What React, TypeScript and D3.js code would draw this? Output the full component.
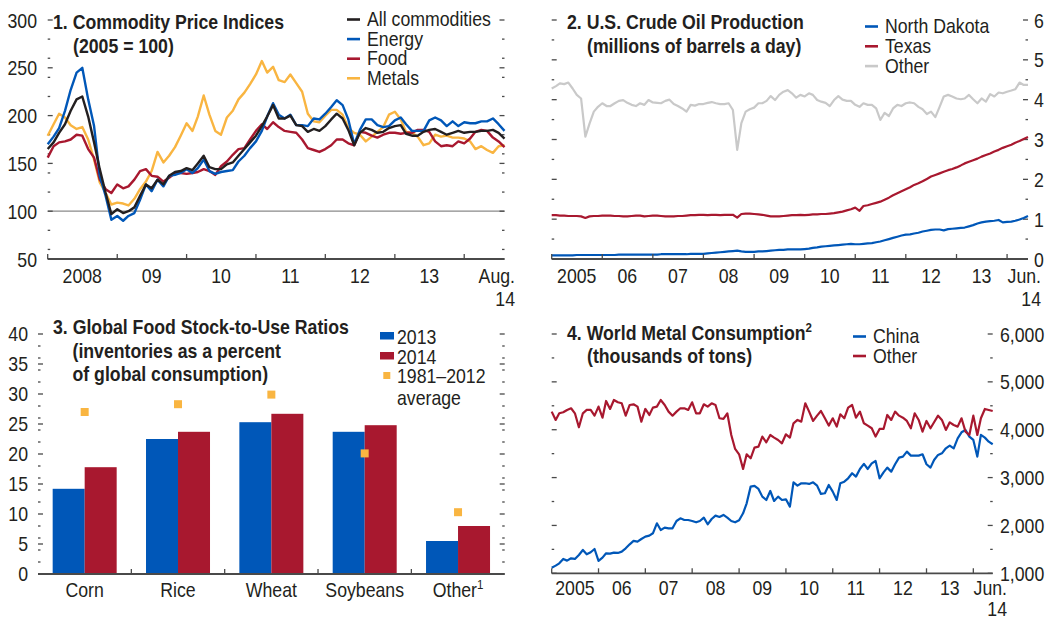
import * as d3 from "d3";

const FONT = "'Liberation Sans', Arial, sans-serif";
const FS = 20;
const SX = 0.885; // the original uses a condensed face; squeeze glyphs horizontally
const INK = "#231f20";
const AXIS = "#4a4a4a";
const BLUE = "#0057b8";
const RED = "#a8182f";
const GOLD = "#f9b541";
const BLACK = "#231f20";
const GREY = "#c9c9c9";

// 1. Commodity price indices (2005 = 100), monthly Jan 2008 - Aug 2014
const allCommodities = [
  165, 172, 182, 191, 205, 217, 220, 199, 172, 144, 119, 97,
  102, 98, 100, 104, 116, 128, 124, 133, 128, 137, 141, 142,
  145, 143, 150, 158, 146, 144, 144, 149, 151, 158, 165, 172,
  179, 189, 199, 211, 197, 197, 200, 190, 189, 183, 186, 184,
  189, 196, 202, 197, 185, 169, 182, 187, 185, 182, 183, 187,
  189, 190, 181, 179, 179, 183, 185, 186, 183, 180, 182, 184,
  182, 183, 183, 184, 184, 185, 182, 176,
];
const energy = [
  170, 178, 187, 205, 227, 245, 250, 217, 189, 137, 116, 91,
  95, 90, 95, 98, 112, 128, 121, 133, 126, 137, 138, 140,
  144, 140, 145, 154, 142, 139, 141, 142, 143, 152, 158, 166,
  173, 184, 199, 213, 201, 197, 201, 190, 190, 189, 197, 196,
  202, 209, 216, 211, 196, 170, 185, 196, 196, 190, 188, 189,
  195, 198, 191, 184, 184, 184, 195, 198, 195, 189, 194, 189,
  193, 192, 192, 194, 194, 197, 191, 184,
];
const foodIndex = [
  156, 168, 172, 173, 175, 180, 179, 165, 156, 133, 123, 119,
  128, 124, 126, 133, 142, 144, 137, 136, 131, 135, 140, 140,
  139, 140, 141, 144, 142, 138, 147, 152, 159, 165, 166, 175,
  184, 191, 186, 193, 188, 184, 183, 182, 175, 166, 164, 162,
  165, 169, 175, 175, 171, 169, 183, 182, 179, 177, 180, 182,
  182, 181, 182, 182, 185, 185, 183, 173, 168, 169, 168, 173,
  171, 176, 183, 185, 184, 177, 173, 167,
];
const metalsIndex = [
  179, 191, 202, 198, 190, 186, 188, 175, 154, 130, 119, 107,
  109, 108, 106, 113, 123, 131, 142, 162, 151, 158, 167, 179,
  192, 184, 199, 221, 201, 184, 180, 198, 205, 217, 224, 233,
  243, 257, 245, 251, 237, 235, 243, 234, 225, 202, 194, 193,
  200, 206, 206, 201, 187, 182, 180, 173, 178, 183, 188, 201,
  204, 196, 183, 182, 178, 169, 171, 180, 178, 179, 177, 177,
  176, 173, 165, 168, 164, 161, 168, 169,
];
const priceTicks = [50, 100, 150, 200, 250, 300];
const priceYears = ["2008", "09", "10", "11", "12", "13"];

// 2. U.S. crude oil production (mb/d), monthly Jan 2005 - Jun 2014
const northDakota = [
  0.09, 0.09, 0.09, 0.09, 0.09, 0.09, 0.1, 0.1, 0.1, 0.1, 0.1, 0.1,
  0.1, 0.1, 0.1, 0.1, 0.11, 0.11, 0.11, 0.11, 0.11, 0.11, 0.11, 0.11,
  0.11, 0.11, 0.12, 0.12, 0.12, 0.12, 0.12, 0.12, 0.12, 0.13, 0.13, 0.13,
  0.13, 0.14, 0.15, 0.16, 0.17, 0.18, 0.19, 0.2, 0.21, 0.19, 0.18, 0.18,
  0.18, 0.19, 0.19, 0.2, 0.21, 0.22, 0.23, 0.23, 0.24, 0.24, 0.24, 0.24,
  0.25, 0.26, 0.28, 0.29, 0.31, 0.32, 0.33, 0.34, 0.35, 0.36, 0.37, 0.38,
  0.37, 0.37, 0.38, 0.39, 0.4, 0.42, 0.44, 0.47, 0.5, 0.53, 0.56, 0.59,
  0.61, 0.62, 0.64, 0.66, 0.69, 0.71, 0.73, 0.74, 0.74, 0.72, 0.75, 0.76,
  0.77, 0.78, 0.79, 0.82, 0.85, 0.89, 0.92, 0.94, 0.95, 0.96, 0.98, 0.92,
  0.93, 0.94, 0.96, 0.99, 1.03, 1.08,
];
const texas = [
  1.1, 1.1, 1.09, 1.09, 1.08, 1.08, 1.08, 1.07, 1.03, 1.07, 1.08, 1.08,
  1.09, 1.09, 1.09, 1.08, 1.08, 1.07, 1.07, 1.08, 1.09, 1.09, 1.07, 1.08,
  1.09, 1.09, 1.08, 1.07, 1.07, 1.07, 1.08, 1.08, 1.09, 1.1, 1.1, 1.11,
  1.11, 1.1, 1.11, 1.11, 1.1, 1.11, 1.11, 1.11, 1.04, 1.13, 1.14, 1.14,
  1.13, 1.12, 1.11, 1.09, 1.07, 1.07, 1.07, 1.08, 1.09, 1.1, 1.1, 1.11,
  1.1, 1.11, 1.12, 1.12, 1.13, 1.13, 1.14, 1.15, 1.17, 1.19, 1.22, 1.25,
  1.29, 1.21, 1.33, 1.35, 1.38, 1.41, 1.44, 1.49, 1.54, 1.6, 1.65, 1.7,
  1.75, 1.8, 1.86, 1.9, 1.95, 2.01, 2.07, 2.11, 2.15, 2.19, 2.23, 2.26,
  2.3, 2.35, 2.4, 2.44, 2.48, 2.52, 2.57, 2.61, 2.65, 2.7, 2.74, 2.79,
  2.83, 2.87, 2.92, 2.96, 3.01, 3.06,
];
const otherOil = [
  4.28, 4.34, 4.41, 4.39, 4.43, 4.28, 4.12, 4.03, 3.07, 3.4, 3.7, 3.82,
  3.91, 3.84, 3.84, 3.91, 3.97, 3.99, 3.92, 3.87, 3.84, 3.91, 3.87, 3.99,
  3.93, 3.92, 3.91, 3.97, 4.0, 3.89, 3.84, 3.78, 3.7, 3.87, 3.85, 3.89,
  3.89, 3.92, 3.94, 3.91, 3.89, 3.89, 3.91, 3.74, 2.74, 3.41, 3.7, 3.76,
  3.8, 3.91, 3.91, 3.97, 4.09, 3.99, 4.12, 4.2, 4.24, 4.16, 4.05, 4.12,
  4.08, 4.16, 4.12, 3.99, 3.95, 3.92, 3.84, 3.99, 4.09, 4.0, 3.97, 3.97,
  3.87, 3.82, 3.91, 3.87, 3.87, 3.78, 3.49, 3.67, 3.59, 3.78, 3.87, 3.84,
  3.91, 3.93, 3.91, 3.82, 3.76, 3.64, 3.7, 3.56, 3.82, 4.08, 4.12, 4.08,
  4.03, 4.01, 4.03, 4.12, 4.01, 3.91, 4.03, 3.95, 4.14, 4.08, 4.18, 4.16,
  4.2, 4.23, 4.26, 4.43, 4.37, 4.37,
];
const oilTicks = [0, 1, 2, 3, 4, 5, 6];
const longYears = ["2005", "06", "07", "08", "09", "10", "11", "12", "13"];

// 3. Global food stock-to-use ratios (percent)
const foodCats = ["Corn", "Rice", "Wheat", "Soybeans", "Other"];
const stocks2013 = [14.2, 22.5, 25.3, 23.7, 5.5];
const stocks2014 = [17.8, 23.7, 26.7, 24.8, 8.0];
const stocksAvg = [27.0, 28.3, 29.9, 20.1, 10.3];
const stockTicks = [0, 5, 10, 15, 20, 25, 30, 35, 40];

// 4. World metal consumption (thousands of tons), monthly Jan 2005 - Jun 2014
const chinaMetal = [
  1118, 1160, 1209, 1300, 1265, 1313, 1300, 1383, 1488, 1397, 1439, 1508,
  1258, 1327, 1418, 1411, 1432, 1425, 1453, 1522, 1606, 1676, 1662, 1717,
  1766, 1787, 1836, 2045, 1905, 1954, 1940, 1940, 2093, 2149, 2114, 2114,
  2093, 2066, 2093, 2163, 2024, 2135, 2205, 2177, 2219, 2163, 2093, 2066,
  2107, 2254, 2463, 2811, 2825, 2762, 2602, 2532, 2720, 2511, 2602, 2532,
  2546, 2393, 2901, 2832, 2881, 2881, 2867, 2901, 2832, 2658, 2672, 2846,
  2706, 2532, 2881, 2915, 2985, 3090, 3020, 3180, 3285, 3180, 3298, 3347,
  2985, 3110, 3208, 3124, 3278, 3417, 3438, 3542, 3459, 3459, 3459, 3487,
  3278, 3208, 3368, 3473, 3507, 3612, 3668, 3612, 3821, 3946, 3995, 3856,
  3786, 3438, 3891, 3835, 3751, 3696,
];
const otherMetal = [
  4378, 4204, 4343, 4364, 4413, 4448, 4343, 4051, 4343, 4413, 4413, 4294,
  4483, 4252, 4601, 4434, 4622, 4573, 4552, 4294, 4517, 4531, 4483, 4169,
  4434, 4308, 4462, 4483, 4622, 4517, 4378, 4294, 4378, 4448, 4448, 4413,
  4573, 4343, 4343, 4531, 4483, 4552, 4517, 4239, 4225, 4343, 3890, 3598,
  3486, 3180, 3486, 3403, 3626, 3647, 3856, 3737, 3890, 3835, 3786, 3716,
  3904, 3835, 4134, 4204, 4169, 4552, 4378, 4183, 4294, 4392, 4239, 4086,
  4239, 4065, 4322, 4239, 4462, 4517, 4252, 4378, 4134, 4086, 4030, 3856,
  4016, 4016, 4308, 4204, 4378, 4294, 4252, 4183, 4030, 4343, 4204, 3960,
  4183, 4030, 4155, 4294, 4204, 3995, 4155, 4099, 4065, 4239, 3960, 3890,
  4294, 3890, 4239, 4434, 4413, 4392,
];
const metalTicks = [1000, 2000, 3000, 4000, 5000, 6000];

const monthsFrom = (year: number, n: number) =>
  d3.range(n).map((i) => new Date(year, i, 1));

type Series = { name: string; color: string; values: number[] };

// condensed text: position, then squeeze horizontally
function T({ x, y, anchor, bold, children }: any) {
  return (
    <text
      transform={`translate(${x},${y}) scale(${SX},1)`}
      textAnchor={anchor || "start"}
      fontWeight={bold ? 700 : 400}
    >
      {children}
    </text>
  );
}

function SideTicks({ y, major, minor, x0, x1 }: any) {
  const mk = (v: number, len: number, k: string) => (
    <g key={k}>
      <line x1={x0} x2={x0 + len} y1={y(v)} y2={y(v)} />
      <line x1={x1 - len} x2={x1} y1={y(v)} y2={y(v)} />
    </g>
  );
  return (
    <g stroke={AXIS} strokeWidth={1.3}>
      {major.map((v: number) => mk(v, 5, "M" + v))}
      {minor.map((v: number) => mk(v, 2.5, "m" + v))}
    </g>
  );
}

function YearAxis({ x, baseY, firstYear, labels, end, endRight, labelDy, endDy }: any) {
  const [r0, r1] = x.range();
  const tickYears = d3.range(firstYear, firstYear + labels.length + 1);
  return (
    <g>
      <line x1={r0} x2={r1} y1={baseY} y2={baseY} stroke={AXIS} strokeWidth={1.8} />
      {tickYears.map((yr) => (
        <line key={yr} x1={x(new Date(yr, 0, 1))} x2={x(new Date(yr, 0, 1))} y1={baseY - 5} y2={baseY} stroke={AXIS} strokeWidth={1.3} />
      ))}
      {labels.map((lab: string, i: number) => (
        <T key={lab} x={x(new Date(firstYear + i, 6, 1))} y={baseY + labelDy} anchor="middle">{lab}</T>
      ))}
      <T x={endRight} y={baseY + labelDy} anchor="end">{end[0]}</T>
      <T x={endRight} y={baseY + endDy} anchor="end">{end[1]}</T>
    </g>
  );
}

function Lines({ x, y, dates, series, width }: any) {
  return (
    <g fill="none" strokeWidth={width} strokeLinejoin="round">
      {series.map((s: Series) => {
        const path = d3.line<number>().x((_, i) => x(dates[i])).y((d) => y(d))(s.values);
        return <path key={s.name} d={path || ""} stroke={s.color} />;
      })}
    </g>
  );
}

function LineLegend({ x, y0, step, items }: any) {
  return (
    <g>
      {items.map((s: Series, i: number) => (
        <g key={s.name}>
          <line x1={x} x2={x + 13} y1={y0 + i * step - 6.5} y2={y0 + i * step - 6.5} stroke={s.color} strokeWidth={2.6} />
          <T x={x + 20} y={y0 + i * step}>{s.name}</T>
        </g>
      ))}
    </g>
  );
}

function PricePanel() {
  const dates = monthsFrom(2008, allCommodities.length);
  const x = d3.scaleTime().domain([dates[0], dates[dates.length - 1]]).range([47.7, 504.5]);
  const y = d3.scaleLinear().domain([50, 300]).range([259, 20]);
  const minor = y.ticks(10).filter((v) => !priceTicks.includes(v));
  const series: Series[] = [
    { name: "All commodities", color: BLACK, values: allCommodities },
    { name: "Energy", color: BLUE, values: energy },
    { name: "Food", color: RED, values: foodIndex },
    { name: "Metals", color: GOLD, values: metalsIndex },
  ];
  const drawOrder = [series[3], series[2], series[1], series[0]];
  return (
    <g>
      <line x1={47.7} x2={504.5} y1={y(100)} y2={y(100)} stroke="#8a8a8a" strokeWidth={1.2} />
      <SideTicks y={y} major={priceTicks} minor={minor} x0={47.7} x1={504.5} />
      {priceTicks.map((v) => (
        <T key={v} x={37} y={y(v) + 7.5} anchor="end">{v}</T>
      ))}
      <Lines x={x} y={y} dates={dates} series={drawOrder} width={2.4} />
      <YearAxis x={x} baseY={259} firstYear={2008} labels={priceYears} end={["Aug.", "14"]} endRight={515} labelDy={24} endDy={47} />
      <T x={53} y={29} bold>1. Commodity Price Indices</T>
      <T x={73} y={52.5} bold>(2005 = 100)</T>
      <LineLegend x={347} y0={26} step={19.6} items={series} />
    </g>
  );
}

function OilPanel() {
  const dates = monthsFrom(2005, otherOil.length);
  const x = d3.scaleTime().domain([dates[0], dates[dates.length - 1]]).range([551.7, 1028]);
  const y = d3.scaleLinear().domain([0, 6]).range([259, 20]);
  const minor = y.ticks(12).filter((v) => !oilTicks.includes(v));
  const series: Series[] = [
    { name: "North Dakota", color: BLUE, values: northDakota },
    { name: "Texas", color: RED, values: texas },
    { name: "Other", color: GREY, values: otherOil },
  ];
  return (
    <g>
      <SideTicks y={y} major={oilTicks} minor={minor} x0={551.7} x1={1028} />
      {oilTicks.map((v) => (
        <T key={v} x={1034} y={y(v) + 7.5}>{v}</T>
      ))}
      <Lines x={x} y={y} dates={dates} series={[...series].reverse()} width={2.2} />
      <YearAxis x={x} baseY={259} firstYear={2005} labels={longYears} end={["Jun.", "14"]} endRight={1041} labelDy={24} endDy={47} />
      <T x={567} y={29} bold>2. U.S. Crude Oil Production</T>
      <T x={587} y={52.5} bold>(millions of barrels a day)</T>
      <LineLegend x={865} y0={33} step={19.8} items={series} />
    </g>
  );
}

function StockPanel() {
  const x = d3.scaleBand<string>().domain(foodCats).range([38, 504.7]);
  const bw = x.bandwidth();
  const inner = d3.scaleBand<string>().domain(["2013", "2014"]).range([bw / 2 - 32, bw / 2 + 32]);
  const y = d3.scaleLinear().domain([0, 40]).range([574, 334]);
  const minor = y.ticks(16).filter((v) => !stockTicks.includes(v));
  return (
    <g>
      <SideTicks y={y} major={stockTicks} minor={minor} x0={38} x1={504.7} />
      {stockTicks.map((v) => (
        <T key={v} x={28} y={y(v) + 7} anchor="end">{v}</T>
      ))}
      {foodCats.map((c, i) => (
        <g key={c} transform={`translate(${x(c)},0)`}>
          <rect x={inner("2013")} y={y(stocks2013[i])} width={inner.bandwidth()} height={y(0) - y(stocks2013[i])} fill={BLUE} />
          <rect x={inner("2014")} y={y(stocks2014[i])} width={inner.bandwidth()} height={y(0) - y(stocks2014[i])} fill={RED} />
          <rect x={bw / 2 - 4} y={y(stocksAvg[i]) - 4} width={8} height={8} fill={GOLD} />
          <T x={bw / 2} y={596.5} anchor="middle">
            {c}
            {c === "Other" && <tspan dy={-8} fontSize={13}>1</tspan>}
          </T>
        </g>
      ))}
      <line x1={38} x2={504.7} y1={574} y2={574} stroke={AXIS} strokeWidth={1.8} />
      {foodCats.slice(1).map((c) => (
        <line key={c} x1={x(c)} x2={x(c)} y1={569} y2={574} stroke={AXIS} strokeWidth={1.3} />
      ))}
      <T x={53} y={334} bold>3. Global Food Stock-to-Use Ratios</T>
      <T x={72.5} y={357.5} bold>(inventories as a percent</T>
      <T x={72.5} y={381} bold>of global consumption)</T>
      <rect x={380} y={332} width={14} height={7.5} fill={BLUE} />
      <T x={397} y={343.5}>2013</T>
      <rect x={380} y={352} width={14} height={7.5} fill={RED} />
      <T x={397} y={363.5}>2014</T>
      <rect x={383.3} y={372} width={7} height={7} fill={GOLD} />
      <T x={397} y={383}>1981–2012</T>
      <T x={397} y={404.5}>average</T>
    </g>
  );
}

function MetalPanel() {
  const dates = monthsFrom(2005, chinaMetal.length);
  const x = d3.scaleTime().domain([dates[0], dates[dates.length - 1]]).range([551.7, 992.7]);
  const y = d3.scaleLinear().domain([1000, 6000]).range([573.3, 334]);
  const minor = y.ticks(10).filter((v) => !metalTicks.includes(v));
  const series: Series[] = [
    { name: "China", color: BLUE, values: chinaMetal },
    { name: "Other", color: RED, values: otherMetal },
  ];
  const fmt = d3.format(",");
  return (
    <g>
      <SideTicks y={y} major={metalTicks} minor={minor} x0={551.7} x1={992.7} />
      {metalTicks.map((v) => (
        <T key={v} x={1000} y={y(v) + 7.5}>{fmt(v)}</T>
      ))}
      <Lines x={x} y={y} dates={dates} series={series} width={2.2} />
      <YearAxis x={x} baseY={573.3} firstYear={2005} labels={longYears} end={["Jun.", "14"]} endRight={1007} labelDy={21.5} endDy={43} />
      <T x={567} y={340} bold>
        4. World Metal Consumption<tspan dy={-8} fontSize={13}>2</tspan>
      </T>
      <T x={587} y={363} bold>(thousands of tons)</T>
      <LineLegend x={853} y0={343} step={19.5} items={series} />
    </g>
  );
}

export default function App() {
  return (
    <svg
      width={1052}
      height={620}
      style={{ position: "absolute", left: 0, top: 0, background: "#fff" }}
      fontFamily={FONT}
      fontSize={FS}
      fill={INK}
    >
      <PricePanel />
      <OilPanel />
      <StockPanel />
      <MetalPanel />
    </svg>
  );
}
